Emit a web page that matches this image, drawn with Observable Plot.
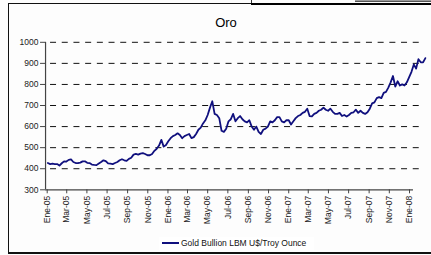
<!DOCTYPE html>
<html>
<head>
<meta charset="utf-8">
<script src="https://cdn.jsdelivr.net/npm/d3@7"></script>
<script src="https://cdn.jsdelivr.net/npm/@observablehq/plot@0.6"></script>
<style>
  html, body { margin: 0; padding: 0; background: #fff; }
  #wrap { position: relative; width: 431px; height: 255px; overflow: hidden; background: #fdfdfd; font-family: "Liberation Sans", Arial, sans-serif; }
  #frame { position: absolute; left: 8px; top: 3px; width: 440px; height: 248px; border: 1px solid #111; border-bottom-width: 2px; }
  #topbar { position: absolute; left: 251px; top: 3px; width: 180px; height: 2px; background: #000; }
  #topvert { position: absolute; left: 251px; top: 0; width: 1px; height: 4px; background: #333; }
  #topgrey { position: absolute; left: 355px; top: 0; width: 76px; height: 1px; background: #9a9a9a; border-bottom: 1px solid #555; }
  #chart { position: absolute; left: 0; top: 0; }
  #title { position: absolute; left: 176px; top: 15px; width: 100px; text-align: center; font-size: 13px; line-height: 15px; color: #000; font-weight: normal; font-family: "Liberation Sans", Arial, sans-serif; }
  #legend { position: absolute; left: 159px; top: 237px; width: 155px; height: 13px; background: #fff; font-size: 8.5px; line-height: 13px; color: #111; white-space: nowrap; font-family: "Liberation Sans", Arial, sans-serif; }
  #legend .sw { display: inline-block; width: 17px; height: 0; border-top: 2px solid #10107e; vertical-align: middle; margin: 0 2px 0 3px; position: relative; top: -1px; }
  #chart svg text { font-family: "Liberation Sans", Arial, sans-serif; }
</style>
</head>
<body>
<div id="wrap">
  <div id="frame"></div>
  <div id="topvert"></div>
  <div id="topbar"></div>
  <div id="topgrey"></div>
  <div id="chart"></div>
  <div id="title">Oro</div>
  <div id="legend"><span class="sw"></span>Gold Bullion LBM U$/Troy Ounce</div>
</div>
<script>
// Weekly gold price (US$/troy ounce), weeks starting Mon 3 Jan 2005
const seriesName = "Gold Bullion LBM U$/Troy Ounce";
const values2005 = [427,422,424,422,422, 415,426,435,434, 442,444,432,427, 427,429,435,435,
  428,427,420,418,417, 425,432,440,436, 425,424,422,427, 432,440,445,440,437,
  447,452,467,470, 467,472,474,470,464, 464,470,485,495, 510,537,505,513];
const values2006 = [530,545,555,560,568, 560,545,555,560, 565,545,550,565, 585,595,615,630,
  655,690,720,660,655, 640,580,575,590, 625,635,660,625,640, 650,635,625,620,
  630,600,585,600, 575,565,585,590,600, 625,620,630,645, 645,625,620,630];
const values2007 = [630,610,625,640,650, 655,665,670,685, 650,648,660,665, 675,680,690,680,675,
  685,670,660,660, 665,650,655,648, 655,665,668,680,665, 675,665,660,668,
  685,710,715,735, 740,735,760,765,785, 810,840,790,815, 795,800,795,810,835];
const values2008 = [860,895,875,920, 905,905,925];

const yTicks = [300,400,500,600,700,800,900,1000];
const yGrid = [400,500,600,700,800,900,1000];
const xTickLabels = ["Ene-05","Mar-05","May-05","Jul-05","Sep-05","Nov-05",
  "Ene-06","Mar-06","May-06","Jul-06","Sep-06","Nov-06",
  "Ene-07","Mar-07","May-07","Jul-07","Sep-07","Nov-07","Ene-08"];
const xTickDates = ["2005-01-01","2005-03-01","2005-05-01","2005-07-01","2005-09-01","2005-11-01",
  "2006-01-01","2006-03-01","2006-05-01","2006-07-01","2006-09-01","2006-11-01",
  "2007-01-01","2007-03-01","2007-05-01","2007-07-01","2007-09-01","2007-11-01","2008-01-01"].map(d => new Date(d));

const allValues = [...values2005, ...values2006, ...values2007, ...values2008];
const data = allValues.map((v, i) => ({date: new Date(Date.UTC(2005, 0, 3 + 7 * i)), value: v}));

const axisStart = new Date("2004-12-27");
const axisEnd = new Date("2008-01-13");
const gridEnd = new Date("2008-02-12");

const plot = Plot.plot({
  width: 431,
  height: 255,
  marginLeft: 45, marginRight: 5, marginTop: 40, marginBottom: 66,
  style: {background: "transparent", fontFamily: "'Liberation Sans', Arial, sans-serif", overflow: "visible"},
  x: {type: "utc", domain: [new Date("2005-01-01"), new Date("2008-01-01")], range: [46.7, 409], label: null},
  y: {domain: [300, 1000], range: [189.3, 41.8], label: null},
  marks: [
    Plot.ruleY(yGrid, {x1: axisStart, x2: gridEnd, stroke: "#111", strokeWidth: 1, strokeDasharray: "6,5.7", strokeDashoffset: 6.7}),
    Plot.lineY(data, {x: "date", y: "value", stroke: "#10107e", strokeWidth: 1.8}),
    Plot.ruleX([axisStart], {y1: 300, y2: 1000, stroke: "#444", strokeWidth: 1.2}),
    Plot.ruleY([300], {x1: axisStart, x2: axisEnd, stroke: "#444", strokeWidth: 1.2}),
    Plot.axisY(yTicks, {tickSize: 5, tickPadding: 2, fontSize: 8.5, stroke: "#444", fill: "#222", x: axisStart, anchor: "left",
      label: null, tickFormat: d => String(d)}),
    Plot.axisX(xTickDates, {tickSize: 4, tickPadding: 2, fontSize: 8.5, tickRotate: -90, stroke: "#444", fill: "#222",
      tickFormat: (d, i) => xTickLabels[i], y: 300, anchor: "bottom", label: null})
  ]
});
document.getElementById("chart").appendChild(plot);
</script>
</body>
</html>
